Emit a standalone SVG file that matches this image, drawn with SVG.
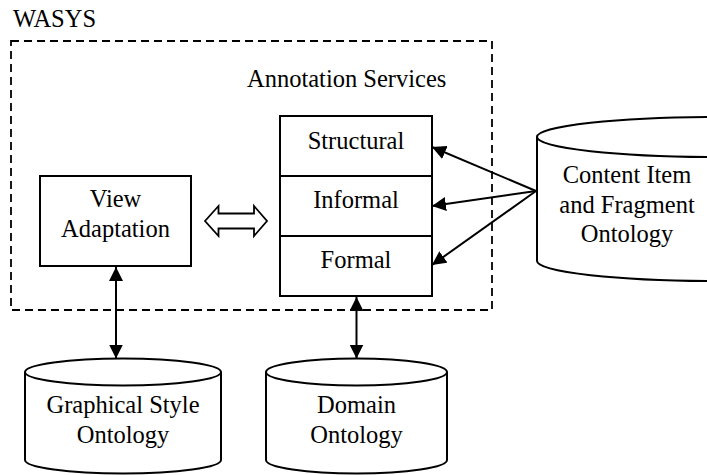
<svg xmlns="http://www.w3.org/2000/svg" width="707" height="475" viewBox="0 0 707 475">
  <defs>
    <marker id="ah" viewBox="0 0 14 14" refX="14" refY="7" markerWidth="14" markerHeight="14" markerUnits="userSpaceOnUse" orient="auto-start-reverse">
      <path d="M0,0 L14,7 L0,14 z" fill="#000"/>
    </marker>
  </defs>
  <style>
    text { font-family: "Liberation Serif", "Times New Roman", Times, serif; font-size: 24.5px; fill: #000; }
    .c { text-anchor: middle; }
    .box { fill: #fff; stroke: #000; stroke-width: 2; }
    .cyl { fill: #fff; stroke: #000; stroke-width: 2; }
    .conn { stroke: #000; stroke-width: 2; fill: none; }
  </style>
  <rect width="707" height="475" fill="#fff"/>

  <g id="wasys">
    <text x="13" y="27">WASYS</text>
    <rect x="11" y="41" width="481" height="269" fill="none" stroke="#000" stroke-width="1.8" stroke-dasharray="8 5"/>
  </g>

  <g id="annotation-services">
    <text x="247" y="87">Annotation Services</text>
  </g>

  <g id="structural">
    <rect class="box" x="280" y="116" width="152" height="60"/>
    <text class="c" x="356" y="149">Structural</text>
  </g>
  <g id="informal">
    <rect class="box" x="280" y="176" width="152" height="60"/>
    <text class="c" x="356" y="208">Informal</text>
  </g>
  <g id="formal">
    <rect class="box" x="280" y="236" width="152" height="60"/>
    <text class="c" x="356" y="268">Formal</text>
  </g>

  <g id="view-adaptation">
    <rect class="box" x="40" y="176" width="151" height="90"/>
    <text class="c" x="115.5" y="207">View</text>
    <text class="c" x="115.5" y="237">Adaptation</text>
  </g>

  <g id="content-ontology">
    <path class="cyl" d="M537,137 L537,261 A183,20 0 0 0 903,261 L903,137"/>
    <ellipse class="cyl" cx="720" cy="137" rx="183" ry="20"/>
    <text class="c" x="627" y="183">Content Item</text>
    <text class="c" x="627" y="213">and Fragment</text>
    <text class="c" x="627" y="242">Ontology</text>
  </g>

  <g id="graphical-style-ontology">
    <path class="cyl" d="M25,372 L25,460 A98,13.5 0 0 0 221,460 L221,372"/>
    <ellipse class="cyl" cx="123" cy="372" rx="98" ry="13.5"/>
    <text class="c" x="123" y="413">Graphical Style</text>
    <text class="c" x="123" y="443">Ontology</text>
  </g>

  <g id="domain-ontology">
    <path class="cyl" d="M266,372 L266,460 A90.5,13.5 0 0 0 447,460 L447,372"/>
    <ellipse class="cyl" cx="356.5" cy="372" rx="90.5" ry="13.5"/>
    <text class="c" x="356.5" y="413">Domain</text>
    <text class="c" x="356.5" y="443">Ontology</text>
  </g>

  <g id="connectors">
    <path d="M205,221 L218.5,206 L218.5,213.5 L254,213.5 L254,206 L267,221 L254,236 L254,228.5 L218.5,228.5 L218.5,236 Z" fill="#fff" stroke="#000" stroke-width="1.8" stroke-linejoin="miter"/>
    <line class="conn" x1="116" y1="267" x2="116" y2="358.5" marker-start="url(#ah)" marker-end="url(#ah)"/>
    <line class="conn" x1="356.5" y1="297" x2="356.5" y2="358.5" marker-start="url(#ah)" marker-end="url(#ah)"/>
    <line class="conn" x1="536" y1="191" x2="432" y2="147" marker-end="url(#ah)"/>
    <line class="conn" x1="536" y1="191" x2="432" y2="206" marker-end="url(#ah)"/>
    <line class="conn" x1="536" y1="191" x2="432" y2="265" marker-end="url(#ah)"/>
  </g>
</svg>
